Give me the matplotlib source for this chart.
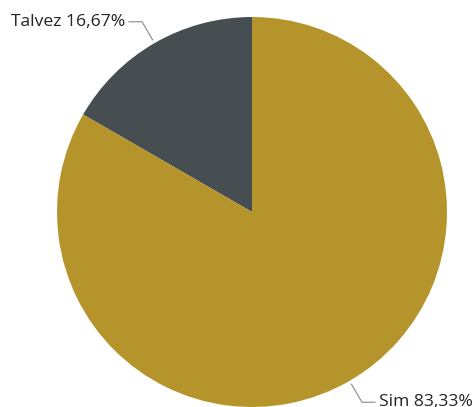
import numpy as np
import matplotlib.pyplot as plt

labels = ["Talvez", "Sim"]
shares = [16.67, 83.33]
colors = ["#464e51", "#b5952b"]

W, H = 473, 407
cx, cy, r = 252, 195, 195

fig = plt.figure(figsize=(W / 100, H / 100), dpi=100)
ax = fig.add_axes([0, 0, 1, 1])

wedges, _ = ax.pie(shares, colors=colors, startangle=90, counterclock=True,
                   center=(cx, cy), radius=r, frame=True,
                   wedgeprops=dict(linewidth=0))
ax.set_xlim(0, W)
ax.set_ylim(0, H)
ax.set_aspect("equal")
ax.axis("off")

# leader lines and labels at each slice's mid angle
for w, lab, val in zip(wedges, labels, shares):
    mid = np.deg2rad((w.theta1 + w.theta2) / 2)
    x0 = cx + r * 1.02 * np.cos(mid)
    y0 = cy + r * 1.02 * np.sin(mid)
    side = np.sign(np.cos(mid))
    x1 = x0 + 10.5 * side
    y1 = y0 + 18 * np.sign(np.sin(mid))
    x2 = x1 + 13 * side
    ax.plot([x0, x1, x2], [y0, y1, y1], color="#8a8a8a", lw=0.8,
            solid_joinstyle="miter")
    text = f"{lab} {val:.2f}%".replace(".", ",")
    ax.text(x2 + 4 * side, y1, text, ha="left" if side > 0 else "right",
            va="center", fontsize=12.6, color="#252423", family="Open Sans")

fig.savefig("out.png", dpi=100)
